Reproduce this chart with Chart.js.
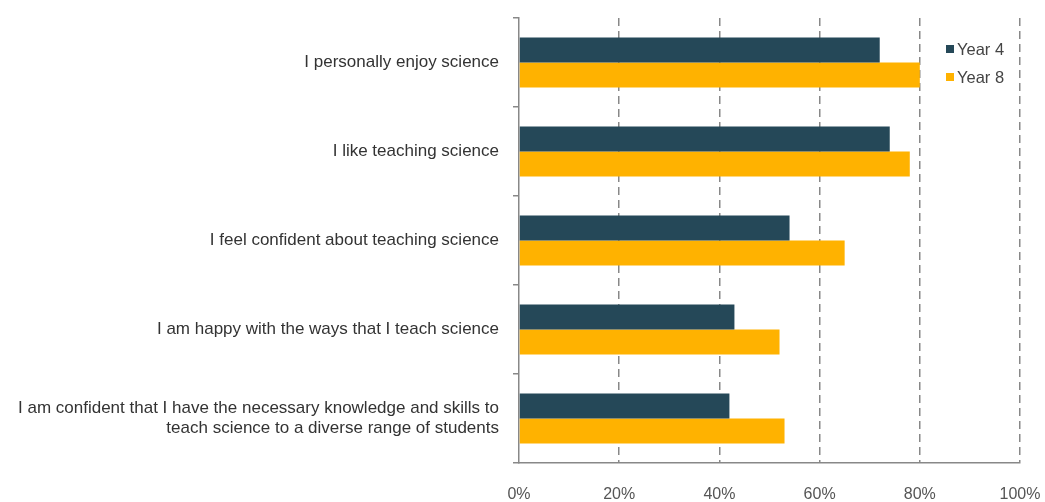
<!DOCTYPE html>
<html>
<head>
<meta charset="utf-8">
<script src="https://cdn.jsdelivr.net/npm/chart.js@4"></script>
<style>
  html, body { margin: 0; padding: 0; background: #fff; }
  #wrap { width: 1045px; height: 502px; }
</style>
</head>
<body>
<div id="wrap"><canvas id="chart"></canvas></div>
<script>
const categories = [
  "I personally enjoy science",
  "I like teaching science",
  "I feel confident about teaching science",
  "I am happy with the ways that I teach science",
  ["I am confident that I have the necessary knowledge and skills to", "teach science to a diverse range of students"]
];
const year4 = [72, 74, 54, 43, 42];
const year8 = [80, 78, 65, 52, 53];
const seriesNames = ["Year 4", "Year 8"];
const xTicks = [0, 20, 40, 60, 80, 100];

const fontFam = "'Liberation Sans', Arial, sans-serif";

// legend drawn inside the plot, top right
const innerLegend = {
  id: "innerLegend",
  afterDraw(chart) {
    const ctx = chart.ctx;
    ctx.save();
    ctx.font = "16.5px " + fontFam;
    ctx.textBaseline = "middle";
    chart.data.datasets.forEach((ds, i) => {
      const y = 49 + i * 28;
      ctx.fillStyle = ds.backgroundColor;
      ctx.fillRect(946, y - 4, 8, 8);
      ctx.fillStyle = "#444";
      ctx.fillText(ds.label, 957, y + 1);
    });
    ctx.restore();
  }
};

const ctx = document.getElementById("chart").getContext("2d");
new Chart(ctx, {
  type: "bar",
  data: {
    labels: categories,
    datasets: [
      { label: seriesNames[0], data: year4, backgroundColor: "#254858" },
      { label: seriesNames[1], data: year8, backgroundColor: "#FFB200" }
    ]
  },
  options: {
    indexAxis: "y",
    responsive: true,
    maintainAspectRatio: false,
    animation: false,
    layout: { padding: { top: 18, right: 25, left: 0, bottom: 0 } },
    datasets: {
      bar: { categoryPercentage: 0.56, barPercentage: 1.0 }
    },
    plugins: {
      legend: { display: false },
      tooltip: { enabled: false }
    },
    scales: {
      x: {
        min: 0,
        max: 100,
        afterBuildTicks: (scale) => {
          scale.ticks = xTicks.map((v) => ({ value: v }));
        },
        afterFit: (scale) => {
          scale.height = 39;
          scale.paddingLeft = 0;
          scale.paddingRight = 0;
        },
        grid: {
          color: (c) => (c.tick && c.tick.value === 0 ? "rgba(0,0,0,0)" : "#888"),
          lineWidth: 1.5,
          tickLength: 0,
          drawTicks: false
        },
        border: { display: true, color: "#888", width: 1.5, dash: [8, 5] },
        ticks: {
          callback: (v) => v + "%",
          color: "#555",
          padding: 22,
          maxRotation: 0,
          font: { family: fontFam, size: 16 }
        }
      },
      y: {
        offset: true,
        afterFit: (scale) => {
          scale.width = 519;
          scale.paddingTop = 0;
          scale.paddingBottom = 0;
        },
        border: { display: true, color: "#888", width: 1.5 },
        grid: {
          offset: true,
          drawOnChartArea: false,
          drawTicks: true,
          tickLength: 6,
          color: "#888",
          lineWidth: 1.5
        },
        ticks: {
          color: "#333",
          padding: 14,
          font: { family: fontFam, size: 17, lineHeight: 1.2 }
        }
      }
    }
  },
  plugins: [innerLegend]
});
</script>
</body>
</html>
